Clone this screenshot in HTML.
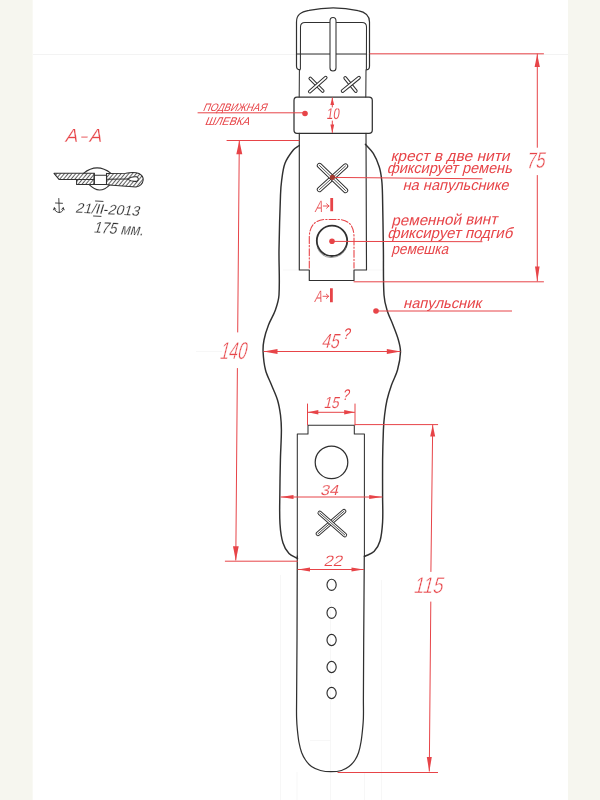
<!DOCTYPE html>
<html lang="ru"><head><meta charset="utf-8"><title>Ремешок с напульсником — чертёж</title>
<style>
html,body{margin:0;padding:0;background:#f6f6ef;}
body{width:600px;height:800px;overflow:hidden;}
svg{display:block;will-change:transform}
text{font-family:"Liberation Sans","DejaVu Sans",sans-serif;}
</style></head><body>
<svg width="600" height="800" viewBox="0 0 600 800">
<defs>
<pattern id="hatch" width="2.9" height="2.9" patternUnits="userSpaceOnUse" patternTransform="rotate(40)">
<line x1="1.4" y1="-1" x2="1.4" y2="4" stroke="#303030" stroke-width="0.8"/>
</pattern>
</defs>
<rect x="0" y="0" width="600" height="800" fill="#f6f6ef"/>
<rect x="32.7" y="0" width="535.3" height="800" fill="#ffffff"/>
<line x1="33" y1="54.5" x2="568" y2="54.5" stroke="#f3f3f3" stroke-width="1"/>
<g stroke="#f5f5f5" stroke-width="0.8" fill="none">
<path d="M280.5,575 L280.5,800 M330.5,600 L330.5,800 M364.5,772 L364.5,800 M381.5,580 L381.5,800 M297,772 L297,800"/>
<path d="M196,351.5 L222,351.5 M283,270 L299,270 M367,270 L383,270 M310,740.5 L331,740.5"/>
</g>

<text font-size="19" fill="#e74448" transform="translate(0,141.5) skewX(-14)" stroke="#fff" stroke-width="0.3"><tspan x="64.5">А</tspan><tspan x="80" textLength="6.5" lengthAdjust="spacingAndGlyphs">–</tspan><tspan x="88.5">А</tspan></text>
<text transform="translate(202.5,110.6) skewX(-22)" font-size="10.8" fill="#e74448" textLength="63.5" lengthAdjust="spacingAndGlyphs">ПОДВИЖНАЯ</text>
<text transform="translate(204.5,124.6) skewX(-22)" font-size="11.2" fill="#e74448" textLength="44.5" lengthAdjust="spacingAndGlyphs">ШЛЕВКА</text>
<text transform="translate(326.3,119.2) skewX(-8)" font-size="15.5" fill="#e74448" textLength="12.8" lengthAdjust="spacingAndGlyphs" stroke="#fff" stroke-width="0.1">10</text>
<text transform="translate(390.5,161.2) skewX(-14)" font-size="15" fill="#e74448" textLength="119" lengthAdjust="spacingAndGlyphs">крест в две нити</text>
<text transform="translate(386.7,173.3) skewX(-14)" font-size="15" fill="#e74448" textLength="125" lengthAdjust="spacingAndGlyphs">фиксирует ремень</text>
<text transform="translate(402.5,189.6) skewX(-14)" font-size="14.8" fill="#e74448" textLength="106" lengthAdjust="spacingAndGlyphs">на напульснике</text>
<text transform="translate(391.2,225.6) rotate(-0.8) skewX(-14)" font-size="15" fill="#e74448" textLength="106" lengthAdjust="spacingAndGlyphs">ременной винт</text>
<text transform="translate(387.3,238) skewX(-14)" font-size="15" fill="#e74448" textLength="125" lengthAdjust="spacingAndGlyphs">фиксирует подгиб</text>
<text transform="translate(391.2,253.8) skewX(-14)" font-size="15" fill="#e74448" textLength="57" lengthAdjust="spacingAndGlyphs">ремешка</text>
<text transform="translate(403,308.4) skewX(-14)" font-size="14.5" fill="#e74448" textLength="78" lengthAdjust="spacingAndGlyphs">напульсник</text>
<text transform="translate(314.5,211.8) skewX(-14)" font-size="16.5" fill="#e74448" textLength="7.5" lengthAdjust="spacingAndGlyphs" stroke="#fff" stroke-width="0.2">А</text>
<text transform="translate(314,302.3) skewX(-14)" font-size="16.5" fill="#e74448" textLength="7.5" lengthAdjust="spacingAndGlyphs" stroke="#fff" stroke-width="0.2">А</text>
<text transform="translate(526,168.5) rotate(-3) skewX(-14)" font-size="22.5" fill="#e74448" textLength="18.5" lengthAdjust="spacingAndGlyphs" stroke="#fff" stroke-width="0.45">75</text>
<text transform="translate(219,358.8) skewX(-14)" font-size="24.5" fill="#e74448" textLength="26.5" lengthAdjust="spacingAndGlyphs" stroke="#fff" stroke-width="0.5">140</text>
<text transform="translate(321,347.6) skewX(-14)" font-size="20.5" fill="#e74448" textLength="17.5" lengthAdjust="spacingAndGlyphs" stroke="#fff" stroke-width="0.3">45</text>
<text transform="translate(342.5,338.8) skewX(-14)" font-size="15.5" fill="#e74448" textLength="7" lengthAdjust="spacingAndGlyphs">?</text>
<text transform="translate(323.5,407.5) skewX(-14)" font-size="16" fill="#e74448" textLength="15" lengthAdjust="spacingAndGlyphs" stroke="#fff" stroke-width="0.15">15</text>
<text transform="translate(342,400) skewX(-14)" font-size="15.5" fill="#e74448" textLength="6.5" lengthAdjust="spacingAndGlyphs">?</text>
<text transform="translate(320,494.8) skewX(-14)" font-size="14.5" fill="#e74448" textLength="18" lengthAdjust="spacingAndGlyphs" stroke="#fff" stroke-width="0.15">34</text>
<text transform="translate(323.5,566) skewX(-14)" font-size="15" fill="#e74448" textLength="18.5" lengthAdjust="spacingAndGlyphs" stroke="#fff" stroke-width="0.15">22</text>
<text transform="translate(413,593) skewX(-14)" font-size="23" fill="#e74448" textLength="29" lengthAdjust="spacingAndGlyphs" stroke="#fff" stroke-width="0.5">115</text>
<text transform="translate(75,212.5) rotate(3) skewX(-14)" font-size="14" fill="#303030" textLength="64" lengthAdjust="spacingAndGlyphs" stroke="#fff" stroke-width="0.15">21/II-2013</text>
<text transform="translate(93,232.5) rotate(3.5) skewX(-14)" font-size="16" fill="#303030" textLength="50" lengthAdjust="spacingAndGlyphs" stroke="#fff" stroke-width="0.2">175 мм.</text>
<g fill="none" stroke="#303030" stroke-linecap="round" stroke-linejoin="round">
<path d="M300,69.8 Q296.5,69.8 296.5,66 L296.5,22 C296.5,15 300.5,12 309,10.4 C325,7 342,7 358,10.6 C365.5,12 369.5,15 369.5,22 L369.5,66 Q369.5,69.8 366.5,69.8" stroke-width="1.2"/>
<path d="M299.2,97 L299.4,70 L300.4,69 L300.5,27 Q300.5,22.5 305,22.5 L329.5,22.5 M336.5,22.5 L362,22.5 Q366.5,22.5 366.5,27 L366.4,69 L366,70 L365.8,97" stroke-width="1.05"/>
<path d="M296.5,54 L330,54 M336,54 L366.5,54" stroke-width="1.05"/>
<path d="M330,68 L330,21 Q330,17.5 333,17.5 Q336,17.5 336,21 L336,68 Q336,71 333,71 Q330,71 330,68 Z" stroke-width="1.05" fill="#fff"/>
</g>
<line x1="310.3" y1="78.5" x2="322.7" y2="91" stroke="#303030" stroke-width="3.7" stroke-linecap="round"/><line x1="310.3" y1="78.5" x2="322.7" y2="91" stroke="#fff" stroke-width="1.7000000000000002" stroke-linecap="round"/>
<line x1="309.8" y1="91.6" x2="325.7" y2="77.7" stroke="#303030" stroke-width="3.7" stroke-linecap="round"/><line x1="309.8" y1="91.6" x2="325.7" y2="77.7" stroke="#fff" stroke-width="1.7000000000000002" stroke-linecap="round"/>
<line x1="345.2" y1="78" x2="355.8" y2="91" stroke="#303030" stroke-width="3.7" stroke-linecap="round"/><line x1="345.2" y1="78" x2="355.8" y2="91" stroke="#fff" stroke-width="1.7000000000000002" stroke-linecap="round"/>
<line x1="342.6" y1="91" x2="359" y2="77.7" stroke="#303030" stroke-width="3.7" stroke-linecap="round"/><line x1="342.6" y1="91" x2="359" y2="77.7" stroke="#fff" stroke-width="1.7000000000000002" stroke-linecap="round"/>
<line x1="319.5" y1="189.5" x2="345.5" y2="166" stroke="#303030" stroke-width="5.4" stroke-linecap="round"/><line x1="319.5" y1="189.5" x2="345.5" y2="166" stroke="#fff" stroke-width="3.5000000000000004" stroke-linecap="round"/><line x1="319.5" y1="189.5" x2="345.5" y2="166" stroke="#303030" stroke-width="0.85" stroke-linecap="round"/>
<line x1="319.5" y1="165.5" x2="345.5" y2="190.5" stroke="#303030" stroke-width="5.4" stroke-linecap="round"/><line x1="319.5" y1="165.5" x2="345.5" y2="190.5" stroke="#fff" stroke-width="3.5000000000000004" stroke-linecap="round"/><line x1="319.5" y1="165.5" x2="345.5" y2="190.5" stroke="#303030" stroke-width="0.85" stroke-linecap="round"/>
<line x1="318" y1="533.8" x2="344" y2="511.2" stroke="#303030" stroke-width="4.6" stroke-linecap="round"/><line x1="318" y1="533.8" x2="344" y2="511.2" stroke="#fff" stroke-width="2.8" stroke-linecap="round"/><line x1="318" y1="533.8" x2="344" y2="511.2" stroke="#303030" stroke-width="0.85" stroke-linecap="round"/>
<line x1="319.8" y1="513" x2="344.8" y2="535" stroke="#303030" stroke-width="4.6" stroke-linecap="round"/><line x1="319.8" y1="513" x2="344.8" y2="535" stroke="#fff" stroke-width="2.8" stroke-linecap="round"/><line x1="319.8" y1="513" x2="344.8" y2="535" stroke="#303030" stroke-width="0.85" stroke-linecap="round"/>
<g fill="none" stroke="#303030" stroke-linecap="round" stroke-linejoin="round">
<path d="M297,97 L369,97 Q372.3,97 372.3,100.5 L372.3,130 Q372.3,133.3 369,133.3 L297,133.3 Q294,133.3 294,130 L294,100.5 Q294,97 297,97 Z" stroke-width="1.25"/>
<path d="M299.3,133.3 L299.3,270 L309.3,270 L309.3,280.5 L354,280.5 L354,270 L366.5,270 L366,133.3" stroke-width="1.15"/>
<circle cx="332" cy="240.8" r="15.2" stroke-width="1.8"/>
<path d="M317.5,248 Q321,257 331,257.5 Q343,257 346.5,247" stroke-width="0.8" stroke="#777"/>
<path d="M299.3,145.5 C297.3,147.0 294.9,148.1 293.3,150.0 C290.0,154.1 286.9,158.4 285.0,163.3 C283.0,168.6 282.5,174.4 281.7,180.0 C281.0,185.0 280.7,190.0 280.5,195.0 C279.8,213.3 279.3,231.7 279.0,250.0 C278.8,265.0 279.9,280.0 279.0,295.0 C278.7,300.1 277.1,305.1 275.4,310.0 C273.6,315.2 270.5,319.9 268.5,325.0 C266.6,329.9 265.0,334.9 264.0,340.0 C263.2,343.9 262.9,348.0 263.1,352.0 C263.4,358.0 264.0,364.1 265.5,370.0 C266.8,375.2 269.5,380.0 271.5,385.0 C273.5,390.0 276.0,394.8 277.5,400.0 C279.0,404.9 279.8,409.9 280.5,415.0 C281.1,420.0 281.4,425.0 281.4,430.0 C281.4,440.0 280.6,450.0 280.4,460.0 C280.1,472.3 279.9,484.7 279.8,497.0 C279.7,506.0 279.4,515.0 280.0,524.0 C280.4,530.4 281.1,536.9 283.0,543.0 C284.2,546.9 286.2,550.6 289.0,553.5 C291.2,555.9 294.7,556.8 297.5,558.5" stroke-width="1.45"/>
<path d="M365.4,144.2 C368.0,147.2 371.2,149.9 373.3,153.3 C375.9,157.5 377.7,162.0 379.2,166.7 C380.6,171.0 381.2,175.5 381.7,180.0 C382.3,185.0 382.4,190.0 382.5,195.0 C382.9,213.3 383.1,231.7 383.4,250.0 C383.6,265.0 383.1,280.0 384.0,295.0 C384.3,300.1 385.5,305.1 387.0,310.0 C388.5,315.2 391.1,320.0 393.0,325.0 C394.9,330.0 397.0,334.9 398.4,340.0 C399.5,343.9 400.6,347.9 400.5,352.0 C400.3,358.1 399.1,364.1 397.5,370.0 C396.1,375.2 393.3,379.9 391.5,385.0 C389.8,389.9 388.2,394.9 387.0,400.0 C385.9,404.9 385.2,410.0 384.6,415.0 C384.0,420.0 383.6,425.0 383.4,430.0 C383.0,440.0 382.7,450.0 382.6,460.0 C382.5,472.3 382.6,484.7 382.6,497.0 C382.6,505.3 383.1,513.7 382.6,522.0 C382.2,528.4 381.8,534.9 380.0,541.0 C378.9,544.9 376.9,548.6 374.0,551.5 C371.5,554.0 367.7,554.8 364.5,556.5" stroke-width="1.45"/>
<path d="M297.3,558 L297.3,434 L308,434 L308,425.3 L354.3,425.3 L354.3,434 L364.4,434 L364.4,556" stroke-width="1.05"/>
<path d="M297.3,556.0 C297.2,584.0 297.1,612.0 297.0,640.0 C296.9,660.0 296.7,680.0 296.6,700.0 C296.6,706.0 296.4,712.0 296.6,718.0 C296.7,722.0 297.0,726.0 297.4,730.0 C297.8,734.0 298.2,738.0 298.9,742.0 C299.6,745.6 300.4,749.1 301.6,752.5 C302.6,755.1 303.9,757.7 305.5,760.0 C307.2,762.4 309.1,764.9 311.5,766.6 C314.2,768.5 317.3,769.7 320.5,770.5 C323.9,771.4 327.5,771.7 331.0,771.7 C334.5,771.7 338.1,771.5 341.5,770.5 C344.2,769.7 346.8,768.3 349.0,766.6 C351.3,764.8 353.3,762.5 355.0,760.0 C356.6,757.7 357.7,755.1 358.6,752.5 C359.7,749.1 360.4,745.5 361.0,742.0 C361.7,738.0 362.1,734.0 362.5,730.0 C362.9,726.0 363.3,722.0 363.4,718.0 C363.6,712.0 363.4,706.0 363.4,700.0 C363.5,680.0 363.6,660.0 363.7,640.0 C363.9,612.0 364.1,584.0 364.3,556.0" stroke-width="1.25"/>
<circle cx="331.5" cy="462.3" r="16.3" stroke-width="1.25"/>
<ellipse cx="331.6" cy="584.8" rx="4.6" ry="5.6" stroke-width="1.15"/>
<ellipse cx="331.6" cy="612.8" rx="4.6" ry="5.6" stroke-width="1.15"/>
<ellipse cx="331.6" cy="640" rx="4.6" ry="5.6" stroke-width="1.15"/>
<ellipse cx="331.6" cy="667" rx="4.6" ry="5.6" stroke-width="1.15"/>
<ellipse cx="331.6" cy="693" rx="4.6" ry="5.6" stroke-width="1.15"/>
</g>
<g stroke="#303030" stroke-width="1.05" stroke-linejoin="round" stroke-linecap="round" fill="url(#hatch)">
<path d="M54,173.3 L94.2,173.3 L94.2,179.4 L59,179.4 Z"/>
<path d="M76.6,179.4 L94.2,179.4 L94.2,184.4 L76.6,184.4 Z"/>
<path fill-rule="evenodd" d="M106.5,173.5 L125.7,173.3 Q134,171.6 139,173.5 Q143.6,176 143.2,180 Q142.5,185.8 136,187 L109,185 L106.5,184.4 Z M127.6,179.1 Q132,176.2 136.5,176.8 Q140,178.8 137,181.2 Q132,182 127.6,179.1 Z"/>
<path d="M106.5,179.3 L127.6,179.1" fill="none"/>
<path d="M83.5,173.3 Q97,162.5 111,173.3 M89,184.4 Q99.5,195.5 110,184.6 M94.2,175.2 L106.5,175.2 M94.2,173.3 L94.2,184.4 L106.5,184.4 L106.5,173.3" fill="none"/>
</g>
<path d="M58.8,198.5 L59.3,212.5 M55.5,203 L62.5,203.3 M54.3,208 Q54.5,212 59.3,212.5 Q63.5,212 63.3,208 M54.3,208 l-0.8,1.8 M54.3,208 l1.6,1.2 M63.3,208 l0.9,1.8 M63.3,208 l-1.6,1.2" fill="none" stroke="#303030" stroke-width="0.9" stroke-linecap="round"/>
<path d="M95.5,201 L103,201.4 M93.5,216 L101,216.4" stroke="#303030" stroke-width="0.9" stroke-linecap="round"/>
<g fill="none" stroke="#e74448" stroke-width="1" stroke-linecap="round">
<path d="M370,53.8 L543.5,53.8 M354,281.8 L543.5,281.8 M537.3,54 L537.3,147.3 M537.3,175.5 L537.3,281"/>
<path d="M332.3,98 L332.3,107 M332.3,121 L332.3,132.5"/>
<path d="M198,112.8 L305,112.8"/>
<path d="M227,140.5 L299,140.5 M225.3,561.2 L297.5,561.2 M239.3,141 L237.7,332 M237.4,368.5 L235.8,560"/>
<path d="M332.4,177.4 L482,178.8 M332,241.4 L482,241.7 M376,311 L511.6,311"/>
<path d="M323.3,206 L329,206 M326.6,203.8 L329,206 L326.6,208.2 M323,296.3 L328.7,296.3 M326.3,294.1 L328.7,296.3 L326.3,298.5" stroke-width="0.9"/>
<path d="M331.7,198 L331.7,211.3 M331.4,288.3 L331.4,302.3" stroke-width="2.8" stroke-linecap="butt"/>
<path d="M309.3,268 L309.3,237 Q309.5,221 324,219.5 L340,219.5 Q354,221 354,237 L354,268" stroke-dasharray="7 2 1.3 2" stroke-width="1.1"/>
<path d="M264,351.5 L400,351.5"/>
<path d="M307.5,404 L307.5,425 M355,404 L355,425 M308,412.3 L354.5,412.3"/>
<path d="M355,424.6 L437.7,424.6 M432.7,425 L430.9,571.5 M430.8,602 L429.3,771 M338,772.5 L437.6,772.5"/>
<path d="M281,497 L382,497"/>
<path d="M298,569.5 L363.5,569.5"/>
</g>
<polygon points="537.2,54.3 539.9,67.0 534.6,67.0" fill="#e74448"/>
<polygon points="537.3,281.5 535.0,266.5 539.6,266.5" fill="#e74448"/>
<polygon points="332.3,97.5 334.2,105.0 330.4,105.0" fill="#e74448"/>
<polygon points="332.3,133.0 330.4,124.5 334.2,124.5" fill="#e74448"/>
<polygon points="239.3,140.5 242.3,154.2 236.3,154.2" fill="#e74448"/>
<polygon points="235.8,560.8 233.0,546.3 238.7,546.3" fill="#e74448"/>
<polygon points="263.5,351.5 277.5,349.0 277.5,354.0" fill="#e74448"/>
<polygon points="400.8,351.5 386.8,354.0 386.8,349.0" fill="#e74448"/>
<polygon points="307.8,412.3 318.3,410.1 318.3,414.5" fill="#e74448"/>
<polygon points="354.7,412.3 344.2,414.5 344.2,410.1" fill="#e74448"/>
<polygon points="432.7,425.0 435.2,436.5 430.2,436.5" fill="#e74448"/>
<polygon points="429.3,772.0 426.8,757.0 431.8,757.0" fill="#e74448"/>
<polygon points="280.5,497.0 293.5,494.9 293.5,499.1" fill="#e74448"/>
<polygon points="382.2,497.0 369.2,499.1 369.2,494.9" fill="#e74448"/>
<polygon points="298.0,569.5 310.0,567.5 310.0,571.5" fill="#e74448"/>
<polygon points="363.5,569.5 351.5,571.5 351.5,567.5" fill="#e74448"/>
<circle cx="305" cy="113.5" r="2.8" fill="#e74448"/>
<circle cx="332" cy="241.2" r="2.8" fill="#e74448"/>
<circle cx="376" cy="311" r="2.8" fill="#e74448"/>
<circle cx="332.4" cy="177.3" r="2.6" fill="#a33a30"/>
</svg>
</body></html>
